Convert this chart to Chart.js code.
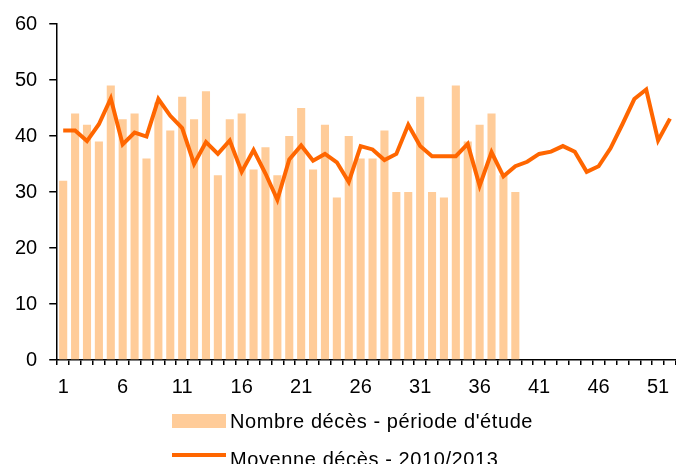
<!DOCTYPE html>
<html>
<head>
<meta charset="utf-8">
<script src="https://cdn.jsdelivr.net/npm/chart.js@4.4.1/dist/chart.umd.min.js"></script>
<style>
  html, body { margin: 0; padding: 0; background: #fff; overflow: hidden; }
  #wrap { position: relative; width: 676px; height: 464px; overflow: hidden; }
  #chart { position: absolute; left: 0; top: 0; }
  .leg { position: absolute; left: 230px; font: 20px "Liberation Sans", Arial, sans-serif; line-height: 24px; letter-spacing: 0.6px; color: #000; white-space: nowrap; }
  .swatch { position: absolute; left: 172px; width: 54px; }
</style>
</head>
<body>
<div id="wrap">
  <canvas id="chart" width="680" height="464"></canvas>
  <div class="swatch" style="top:414px;height:14px;background:#FFCC99;"></div>
  <div class="leg" style="top:409px;">Nombre décès - période d'étude</div>
  <div class="swatch" style="top:453px;height:4px;background:#FF6600;"></div>
  <div class="leg" style="top:447px;">Moyenne décès - 2010/2013</div>
</div>
<script>
// --- Data ---
const weeks = [1, 2, 3, 4, 5, 6, 7, 8, 9, 10, 11, 12, 13, 14, 15, 16, 17, 18, 19, 20,
               21, 22, 23, 24, 25, 26, 27, 28, 29, 30, 31, 32, 33, 34, 35, 36, 37, 38, 39, 40,
               41, 42, 43, 44, 45, 46, 47, 48, 49, 50, 51, 52];
const shownWeekLabels = ['1', '6', '11', '16', '21', '26', '31', '36', '41', '46', '51'];

// weekly deaths during the study period (weeks 1-39)
const decesEtude = [32, 44, 42, 39, 49, 43, 44, 36, 46, 41, 47, 43, 48, 33, 43, 44, 34, 38, 33, 40,
                    45, 34, 42, 29, 40, 36, 36, 41, 30, 30, 47, 30, 29, 49, 39, 42, 44, 33, 30];

// average weekly deaths 2010/2013
const moyenne2010 = [41, 41, 39.1, 42.1, 46.7, 38.5, 40.6, 39.9, 46.6, 43.6, 41.4, 35, 38.9, 36.8, 39.2, 33.6, 37.5, 33.3, 28.6, 35.8,
                     38.3, 35.6, 36.8, 35.3, 31.8, 38.2, 37.6, 35.7, 36.8, 42, 38.2, 36.4, 36.4, 36.4, 38.6, 31.1, 37.1, 32.8, 34.6, 35.4,
                     36.8, 37.2, 38.2, 37.2, 33.6, 34.6, 37.8, 42.1, 46.6, 48.3, 39.2, 43.1];

const FONT = '"Liberation Sans", Arial, sans-serif';

document.addEventListener('DOMContentLoaded', () => {
    const ctx = document.getElementById('chart').getContext('2d');
    new Chart(ctx, {
        type: 'bar',
        data: {
            labels: weeks.map(String),
            datasets: [{
                type: 'line',
                label: 'Moyenne décès - 2010/2013',
                data: moyenne2010,
                borderColor: '#FF6600',
                borderWidth: 4,
                pointRadius: 0,
                tension: 0,
                fill: false,
                order: 0
            }, {
                type: 'bar',
                label: "Nombre décès - période d'étude",
                data: decesEtude,
                backgroundColor: '#FFCC99',
                barPercentage: 0.68,
                categoryPercentage: 1,
                order: 1
            }]
        },
        options: {
            responsive: false,
            animation: false,
            devicePixelRatio: 1,
            layout: { padding: { top: 7, left: 3, right: 0, bottom: 55 } },
            plugins: {
                legend: { display: false },
                tooltip: { enabled: false }
            },
            scales: {
                x: {
                    offset: true,
                    grid: { offset: true, drawOnChartArea: false, drawTicks: true, tickLength: 5, color: '#000', lineWidth: 1.5 },
                    border: { color: '#000', width: 1.5 },
                    ticks: {
                        autoSkip: false,
                        maxRotation: 0,
                        padding: 10,
                        color: '#000',
                        font: { family: FONT, size: 20 },
                        callback: function (val, i) {
                            const lab = this.getLabelForValue(val);
                            return shownWeekLabels.includes(lab) ? lab : '';
                        }
                    }
                },
                y: {
                    min: 0,
                    max: 60,
                    grid: { drawOnChartArea: false, drawTicks: true, tickLength: 8, color: '#000', lineWidth: 1.5 },
                    border: { color: '#000', width: 1.5 },
                    ticks: {
                        stepSize: 10,
                        padding: 12,
                        color: '#000',
                        font: { family: FONT, size: 20 }
                    }
                }
            }
        }
    });
});
</script>
</body>
</html>
